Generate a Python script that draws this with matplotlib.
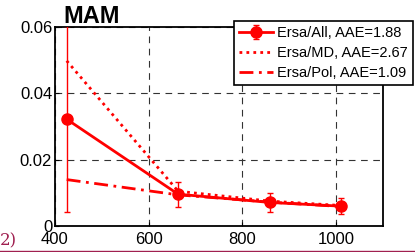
import matplotlib
matplotlib.use("Agg")
import matplotlib.pyplot as plt

wavelength = [425, 663, 860, 1010]
all_vals = [0.0322, 0.0096, 0.0071, 0.0060]
all_err = [0.028, 0.0038, 0.0028, 0.0025]
md_vals = [0.0498, 0.0105, 0.0075, 0.0062]
pol_vals = [0.0140, 0.0094, 0.0072, 0.0059]
labels = ["Ersa/All, AAE=1.88", "Ersa/MD, AAE=2.67", "Ersa/Pol, AAE=1.09"]
xticks = [400, 600, 800, 1000]
yticks = [0, 0.02, 0.04, 0.06]
yticklabels = ["0", "0.02", "0.04", "0.06"]

plt.rcParams['font.family'] = ['Liberation Sans', 'DejaVu Sans']

fig = plt.figure(figsize=(4.15, 2.52), dpi=100)
ax = fig.add_axes([0.1325, 0.103, 0.7895, 0.79])

red = '#ff0000'
h1 = ax.errorbar(wavelength, all_vals, yerr=all_err, color=red, lw=2, marker='o',
                 markersize=8, elinewidth=1, capsize=2.5, capthick=1, label=labels[0], zorder=5)
h2, = ax.plot(wavelength, md_vals, color=red, lw=2, ls=(0, (1, 1.5)), label=labels[1], zorder=4)
h3, = ax.plot(wavelength, pol_vals, color=red, lw=2, ls=(0, (5, 2, 1, 2)), label=labels[2], zorder=4)

ax.set_xlim(400, 1100)
ax.set_ylim(0, 0.06)
ax.set_xticks(xticks)
ax.set_yticks(yticks)
ax.set_yticklabels(yticklabels)
ax.tick_params(direction='in', length=3, labelsize=12, colors='black', pad=2)
ax.tick_params(axis='x', pad=4)
ax.grid(True, color='#333333', ls=(0, (6, 5)), lw=0.8)
for s in ax.spines.values():
    s.set_linewidth(1.3)
    s.set_color('black')

ax.text(0.025, 0.995, "MAM", transform=ax.transAxes, fontsize=17, fontweight='bold',
        ha='left', va='bottom')

leg = ax.legend(handles=[h1, h2, h3], labels=labels, loc='upper right',
                bbox_to_anchor=(413/415, (252-21)/252),
                bbox_transform=fig.transFigure, fontsize=10.5, frameon=True,
                fancybox=False, edgecolor='black', framealpha=1, handlelength=2.3,
                handletextpad=0.3, borderpad=0.35, labelspacing=0.42, borderaxespad=0)
leg.get_frame().set_linewidth(1.2)
leg.set_zorder(10)

fig.text(0.0, 0.01, "2)", fontsize=12, color='#a02050', family='DejaVu Serif', ha='left', va='bottom')
fig.add_artist(plt.Line2D([0, 1], [0.004, 0.004], color='#a02050', lw=1, transform=fig.transFigure))

fig.savefig("out.png", dpi=100)
